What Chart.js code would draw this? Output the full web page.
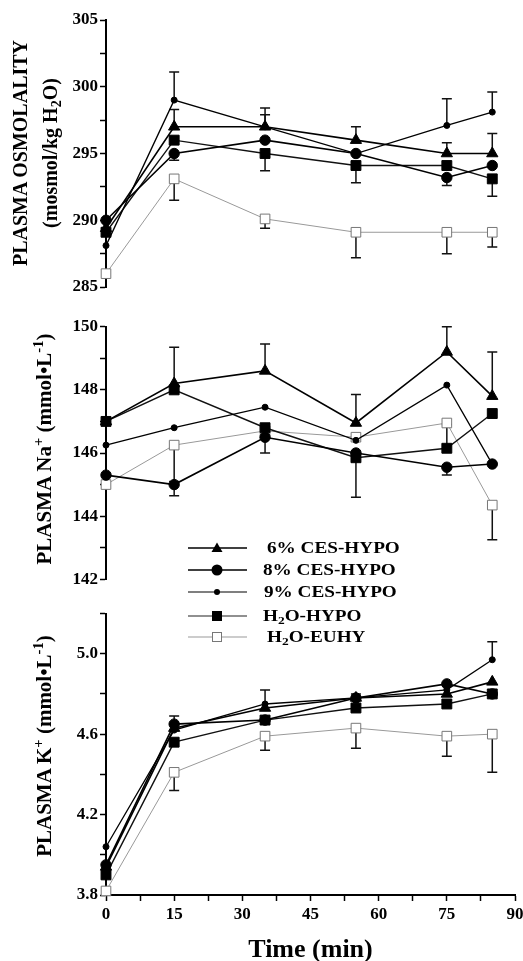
<!DOCTYPE html>
<html>
<head>
<meta charset="utf-8">
<script src="https://cdn.jsdelivr.net/npm/chart.js@4.4.1/dist/chart.umd.min.js"></script>
<style>
html, body { margin: 0; padding: 0; background: #fff; }
body { width: 523px; height: 961px; overflow: hidden; position: relative;
       font-family: 'Liberation Serif', 'Times New Roman', serif; font-weight: bold; color: #000; }
.panel { position: absolute; left: 0; width: 523px; }
.ytitle { position: absolute; white-space: nowrap; line-height: 1;
          transform: translate(-50%, -50%) rotate(-90deg); }
.ytitle sup { font-size: 0.7em; vertical-align: 0.5em; line-height: 0; }
.ytitle sub, .leg sub { font-size: 0.7em; vertical-align: -0.3em; line-height: 0; }
.leg { position: absolute; left: 0; top: 0; z-index: 5; }
.leg svg { position: absolute; left: 182px; }
.leg span { position: absolute; white-space: nowrap; font-size: 16px; line-height: 1;
            transform: translateY(-50%) scaleX(1.2); transform-origin: left center; }
</style>
</head>
<body>
<div class="panel" style="top:0;height:300px"><canvas id="osmChart"></canvas></div>
<div class="panel" style="top:300px;height:300px"><canvas id="naChart"></canvas></div>
<div class="panel" style="top:590px;height:380px"><canvas id="kChart"></canvas></div>

<div class="ytitle" style="left:20px;top:153px;font-size:20px">PLASMA OSMOLALITY</div>
<div class="ytitle" style="left:50px;top:153px;font-size:20px">(mosmol/kg H<sub>2</sub>O)</div>
<div class="ytitle" style="left:44px;top:449px;font-size:21px">PLASMA Na<sup>+</sup> (mmol•L<sup>-1</sup>)</div>
<div class="ytitle" style="left:44px;top:746px;font-size:21px">PLASMA K<sup>+</sup> (mmol•L<sup>-1</sup>)</div>

<div class="leg">
  <svg style="top:541px" width="70" height="14"><line x1="6" y1="7" x2="65" y2="7" stroke="#000" stroke-width="1.6"/><polygon points="35,1.5 40.5,11 29.5,11" fill="#000"/></svg>
  <span style="left:267px;top:548px">6% CES-HYPO</span>
  <svg style="top:563px" width="70" height="14"><line x1="6" y1="7" x2="65" y2="7" stroke="#000" stroke-width="1.6"/><circle cx="35" cy="7" r="5.5" fill="#000"/></svg>
  <span style="left:263px;top:570px">8% CES-HYPO</span>
  <svg style="top:585px" width="70" height="14"><line x1="6" y1="7" x2="65" y2="7" stroke="#000" stroke-width="1.2"/><circle cx="35" cy="7" r="3" fill="#000"/></svg>
  <span style="left:264px;top:592px">9% CES-HYPO</span>
  <svg style="top:609px" width="70" height="14"><line x1="6" y1="7" x2="65" y2="7" stroke="#222" stroke-width="1.2"/><rect x="30" y="2" width="10" height="10" fill="#000"/></svg>
  <span style="left:263px;top:616px">H<sub>2</sub>O-HYPO</span>
  <svg style="top:630px" width="70" height="14"><line x1="6" y1="7" x2="65" y2="7" stroke="#999" stroke-width="1"/><rect x="30.5" y="2.5" width="9" height="9" fill="#fff" stroke="#777" stroke-width="1"/></svg>
  <span style="left:267px;top:637px">H<sub>2</sub>O-EUHY</span>
</div>

<script>
// sampling times (min)
const times = [0, 15, 35, 55, 75, 85];
const timeTicks = [0, 15, 30, 45, 60, 75, 90];

// plasma osmolality (mosmol/kg H2O)
const osm6 = [289.4, 297.0, 297.0, 296.0, 295.0, 295.0];
const osm8 = [290.0, 295.0, 296.0, 295.0, 293.2, 294.1];
const osm9 = [288.1, 299.0, 297.0, 295.0, 297.1, 298.1];
const osmH2oHypo = [289.1, 296.0, 295.0, 294.1, 294.1, 293.1];
const osmH2oEuhy = [286.0, 293.1, 290.1, 289.1, 289.1, 289.1];
// error bar ends, null where none is drawn
const osm6Err = [null, 298.3, 297.9, 297.0, 295.8, 296.5];
const osm8Err = [null, 294.5, null, null, 292.6, null];
const osm9Err = [null, 301.1, 298.4, null, 299.1, 299.6];
const osmH2oHypoErr = [null, null, 293.7, 292.8, null, 291.8];
const osmH2oEuhyErr = [null, 291.5, 289.4, 287.2, 287.5, 288.0];
const osmTicks = [285, 290, 295, 300, 305];

// plasma Na+ (mmol/L)
const na6 = [147.0, 148.2, 148.6, 146.95, 149.2, 147.8];
const na8 = [145.3, 145.0, 146.5, 146.0, 145.55, 145.65];
const na9 = [146.25, 146.8, 147.45, 146.4, 148.15, 145.65];
const naH2oHypo = [147.0, 148.0, 146.8, 145.85, 146.15, 147.25];
const naH2oEuhy = [145.0, 146.25, 146.7, 146.5, 146.95, 144.35];
const na6Err = [null, 149.35, 149.45, 147.85, 150.0, 149.2];
const na8Err = [null, 144.65, 146.0, null, 145.3, null];
const na9Err = [null, null, null, null, null, null];
const naH2oHypoErr = [null, null, null, 144.6, 146.9, null];
const naH2oEuhyErr = [null, 145.1, null, null, null, 143.25];
const naTicks = [142, 144, 146, 148, 150];

// plasma K+ (mmol/L)
const k6 = [3.94, 4.63, 4.73, 4.78, 4.80, 4.86];
const k8 = [3.95, 4.65, 4.67, 4.78, 4.85, 4.80];
const k9 = [4.04, 4.62, 4.75, 4.78, 4.82, 4.97];
const kH2oHypo = [3.90, 4.56, 4.67, 4.73, 4.75, 4.80];
const kH2oEuhy = [3.82, 4.41, 4.59, 4.63, 4.59, 4.60];
const k6Err = [null, 4.69, 4.82, 4.80, null, null];
const k8Err = [null, null, null, null, null, null];
const k9Err = [null, null, null, null, null, 5.06];
const kH2oHypoErr = [null, null, null, null, null, null];
const kH2oEuhyErr = [null, 4.32, 4.52, 4.53, 4.49, 4.41];
const kTicks = [3.8, 4.2, 4.6, 5.0];

const seriesNames = ['6% CES-HYPO', '8% CES-HYPO', '9% CES-HYPO', 'H2O-HYPO', 'H2O-EUHY'];

// look of each group, same order as seriesNames
const looks = [
  { shape: 'triangle', r: 6.5, line: '#000', border: '#000', fill: '#000', w: 1.6 },
  { shape: 'circle', r: 5.2, line: '#000', border: '#000', fill: '#000', w: 1.6 },
  { shape: 'circle', r: 3, line: '#000', border: '#000', fill: '#000', w: 1.3 },
  { shape: 'rect', r: 7, line: '#111', border: '#000', fill: '#000', w: 1.4 },
  { shape: 'rect', r: 6.8, line: '#999', border: '#777', fill: '#fff', w: 1 }
];

const FONT = 'Liberation Serif';

const errorBars = {
  id: 'errorBars',
  beforeDatasetsDraw(chart) {
    const ctx = chart.ctx, xs = chart.scales.x, ys = chart.scales.y;
    ctx.save();
    ctx.strokeStyle = '#111';
    ctx.lineWidth = 1.5;
    chart.data.datasets.forEach(ds => {
      ds.errEnd.forEach((e, i) => {
        if (e == null) return;
        const px = xs.getPixelForValue(times[i]);
        const p0 = ys.getPixelForValue(ds.data[i].y);
        const p1 = ys.getPixelForValue(e);
        ctx.beginPath();
        ctx.moveTo(px, p0);
        ctx.lineTo(px, p1);
        ctx.moveTo(px - 5, p1);
        ctx.lineTo(px + 5, p1);
        ctx.stroke();
      });
    });
    ctx.restore();
  }
};

function isTick(list, v) {
  return list.some(t => Math.abs(t - v) < 1e-6);
}

function makePanel(id, values, errs, yMin, yMax, yStep, yLabels, digits, showX, pad) {
  const datasets = values.map((vals, s) => ({
    label: seriesNames[s],
    data: times.map((t, i) => ({ x: t, y: vals[i] })),
    errEnd: errs[s],
    borderColor: looks[s].line,
    borderWidth: looks[s].w,
    pointStyle: looks[s].shape,
    pointRadius: looks[s].r,
    pointBackgroundColor: looks[s].fill,
    pointBorderColor: looks[s].border,
    pointBorderWidth: 1,
    tension: 0,
    clip: false
  }));

  const tickFont = { family: FONT, weight: 'bold', size: 17 };

  return new Chart(document.getElementById(id), {
    type: 'line',
    data: { datasets },
    options: {
      responsive: true,
      maintainAspectRatio: false,
      animation: false,
      events: [],
      layout: { padding: pad },
      plugins: { legend: { display: false }, tooltip: { enabled: false } },
      scales: {
        x: {
          type: 'linear',
          min: 0,
          max: 90,
          display: showX,
          border: { display: true, color: '#000', width: 2 },
          grid: { drawOnChartArea: false, tickLength: 6, tickColor: '#000', tickWidth: 1.5 },
          ticks: {
            stepSize: 7.5, autoSkip: false, maxRotation: 0, padding: 3, color: '#000', font: tickFont,
            callback: v => isTick(timeTicks, v) ? String(v) : ''
          },
          title: {
            display: true, text: 'Time (min)', color: '#000',
            font: { family: FONT, weight: 'bold', size: 26, lineHeight: 1.2 },
            padding: { top: 0, bottom: 4 }
          },
          afterFit: s => { s.height = showX ? 75 : 0; s.paddingLeft = 0; s.paddingRight = 0; }
        },
        y: {
          min: yMin,
          max: yMax,
          border: { display: true, color: '#000', width: 2 },
          grid: { drawOnChartArea: false, tickLength: 6, tickColor: '#000', tickWidth: 1.5 },
          ticks: {
            stepSize: yStep, autoSkip: false, padding: 2, color: '#000', font: tickFont,
            callback: v => isTick(yLabels, v) ? v.toFixed(digits) : ''
          },
          afterFit: s => { s.width = 106; s.paddingTop = 0; s.paddingBottom = 0; }
        }
      }
    },
    plugins: [errorBars]
  });
}

makePanel('osmChart',
  [osm6, osm8, osm9, osmH2oHypo, osmH2oEuhy],
  [osm6Err, osm8Err, osm9Err, osmH2oHypoErr, osmH2oEuhyErr],
  285, 305, 2.5, osmTicks, 0, false, { top: 20, right: 7, bottom: 13, left: 0 });

makePanel('naChart',
  [na6, na8, na9, naH2oHypo, naH2oEuhy],
  [na6Err, na8Err, na9Err, naH2oHypoErr, naH2oEuhyErr],
  142, 150, 1, naTicks, 0, false, { top: 26.7, right: 7, bottom: 20.7, left: 0 });

makePanel('kChart',
  [k6, k8, k9, kH2oHypo, kH2oEuhy],
  [k6Err, k8Err, k9Err, kH2oHypoErr, kH2oEuhyErr],
  3.8, 5.2, 0.2, kTicks, 1, true, { top: 23.5, right: 7, bottom: 0, left: 0 });
</script>
</body>
</html>
